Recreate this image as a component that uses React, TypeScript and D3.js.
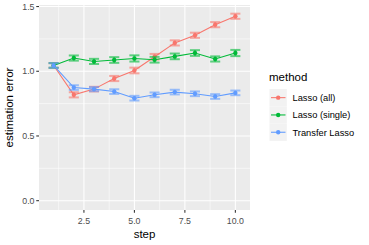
import * as d3 from "d3";

const steps = [1, 2, 3, 4, 5, 6, 7, 8, 9, 10];
const methods = ["Lasso (all)", "Lasso (single)", "Transfer Lasso"];
const colors = ["#F8766D", "#00BA38", "#619CFF"];
const lassoAll = [1.045, 0.818, 0.862, 0.944, 1.006, 1.112, 1.219, 1.278, 1.36, 1.425];
const lassoSingle = [1.045, 1.102, 1.076, 1.087, 1.099, 1.089, 1.115, 1.141, 1.095, 1.141];
const transfer = [1.045, 0.874, 0.862, 0.843, 0.792, 0.818, 0.839, 0.826, 0.805, 0.833];
const errAll = [0.018, 0.02, 0.018, 0.02, 0.022, 0.022, 0.02, 0.02, 0.02, 0.02];
const errSingle = [0.018, 0.02, 0.02, 0.022, 0.024, 0.022, 0.022, 0.022, 0.02, 0.024];
const errTransfer = [0.018, 0.018, 0.016, 0.018, 0.018, 0.018, 0.018, 0.018, 0.018, 0.018];
const xTicks = [2.5, 5.0, 7.5, 10.0];
const xMinor = [1.25, 3.75, 6.25, 8.75];
const yTicks = [0.0, 0.5, 1.0, 1.5];
const yMinor = [0.25, 0.75, 1.25];

const series = [lassoAll, lassoSingle, transfer];
const errs = [errAll, errSingle, errTransfer];

const App = () => {
  const width = 369;
  const height = 245;
  const panel = { left: 39, right: 250, top: 5, bottom: 210 };

  const x = d3.scaleLinear().domain([0.275, 10.725]).range([panel.left, panel.right]);
  const y = d3.scaleLinear().domain([-0.072, 1.512]).range([panel.bottom, panel.top]);

  const line = d3
    .line<number>()
    .x((_, i) => x(steps[i]))
    .y((d) => y(d));

  const font = "'Liberation Sans', Arial, sans-serif";

  return (
    <svg
      width={width}
      height={height}
      style={{ position: "absolute", left: 0, top: 0, fontFamily: font }}
    >
      <rect width={width} height={height} fill="#fff" />
      <rect
        x={panel.left}
        y={panel.top}
        width={panel.right - panel.left}
        height={panel.bottom - panel.top}
        fill="#EBEBEB"
      />
      {yMinor.map((t) => (
        <line key={"ym" + t} x1={panel.left} x2={panel.right} y1={y(t)} y2={y(t)} stroke="#fff" strokeWidth={0.55} />
      ))}
      {xMinor.map((t) => (
        <line key={"xm" + t} x1={x(t)} x2={x(t)} y1={panel.top} y2={panel.bottom} stroke="#fff" strokeWidth={0.55} />
      ))}
      {yTicks.map((t) => (
        <line key={"y" + t} x1={panel.left} x2={panel.right} y1={y(t)} y2={y(t)} stroke="#fff" strokeWidth={1.07} />
      ))}
      {xTicks.map((t) => (
        <line key={"x" + t} x1={x(t)} x2={x(t)} y1={panel.top} y2={panel.bottom} stroke="#fff" strokeWidth={1.07} />
      ))}

      {series.map((s, k) => (
        <g key={methods[k]}>
          {s.map((v, i) => (
            <g key={i} stroke={colors[k]} strokeOpacity={0.6} strokeWidth={2}>
              <line x1={x(steps[i])} x2={x(steps[i])} y1={y(v - errs[k][i])} y2={y(v + errs[k][i])} />
              <line x1={x(steps[i] - 0.25)} x2={x(steps[i] + 0.25)} y1={y(v - errs[k][i])} y2={y(v - errs[k][i])} />
              <line x1={x(steps[i] - 0.25)} x2={x(steps[i] + 0.25)} y1={y(v + errs[k][i])} y2={y(v + errs[k][i])} />
            </g>
          ))}
          <path d={line(s) || ""} fill="none" stroke={colors[k]} strokeWidth={1.07} />
          {s.map((v, i) => (
            <circle key={"p" + i} cx={x(steps[i])} cy={y(v)} r={2.2} fill={colors[k]} />
          ))}
        </g>
      ))}

      {yTicks.map((t) => (
        <g key={"yt" + t}>
          <line x1={panel.left - 2.75} x2={panel.left} y1={y(t)} y2={y(t)} stroke="#333" strokeWidth={1.07} />
          <text x={panel.left - 4.5} y={y(t)} dy="0.35em" textAnchor="end" fontSize={8.8} fill="#4D4D4D">
            {d3.format(".1f")(t)}
          </text>
        </g>
      ))}
      {xTicks.map((t) => (
        <g key={"xt" + t}>
          <line x1={x(t)} x2={x(t)} y1={panel.bottom} y2={panel.bottom + 2.75} stroke="#333" strokeWidth={1.07} />
          <text x={x(t)} y={panel.bottom + 13.5} textAnchor="middle" fontSize={8.8} fill="#4D4D4D">
            {d3.format(".1f")(t)}
          </text>
        </g>
      ))}

      <text x={(panel.left + panel.right) / 2} y={238} textAnchor="middle" fontSize={11.5} fill="#000">
        step
      </text>
      <text
        transform={`translate(13,${(panel.top + panel.bottom) / 2}) rotate(-90)`}
        textAnchor="middle"
        fontSize={11.5}
        fill="#000"
      >
        estimation error
      </text>

      <text x={269} y={81} fontSize={11.5} fill="#000">
        method
      </text>
      {methods.map((m, k) => {
        const ky = 89 + k * 17.3;
        return (
          <g key={"lg" + m}>
            <rect x={269.5} y={ky} width={17.3} height={17.3} fill="#F2F2F2" />
            <line x1={271} x2={285.5} y1={ky + 8.65} y2={ky + 8.65} stroke={colors[k]} strokeWidth={1.07} />
            <circle cx={278.2} cy={ky + 8.65} r={2.2} fill={colors[k]} />
            <text x={292.5} y={ky + 8.65} dy="0.35em" fontSize={9.3} fill="#000">
              {m}
            </text>
          </g>
        );
      })}
    </svg>
  );
};

export default App;
